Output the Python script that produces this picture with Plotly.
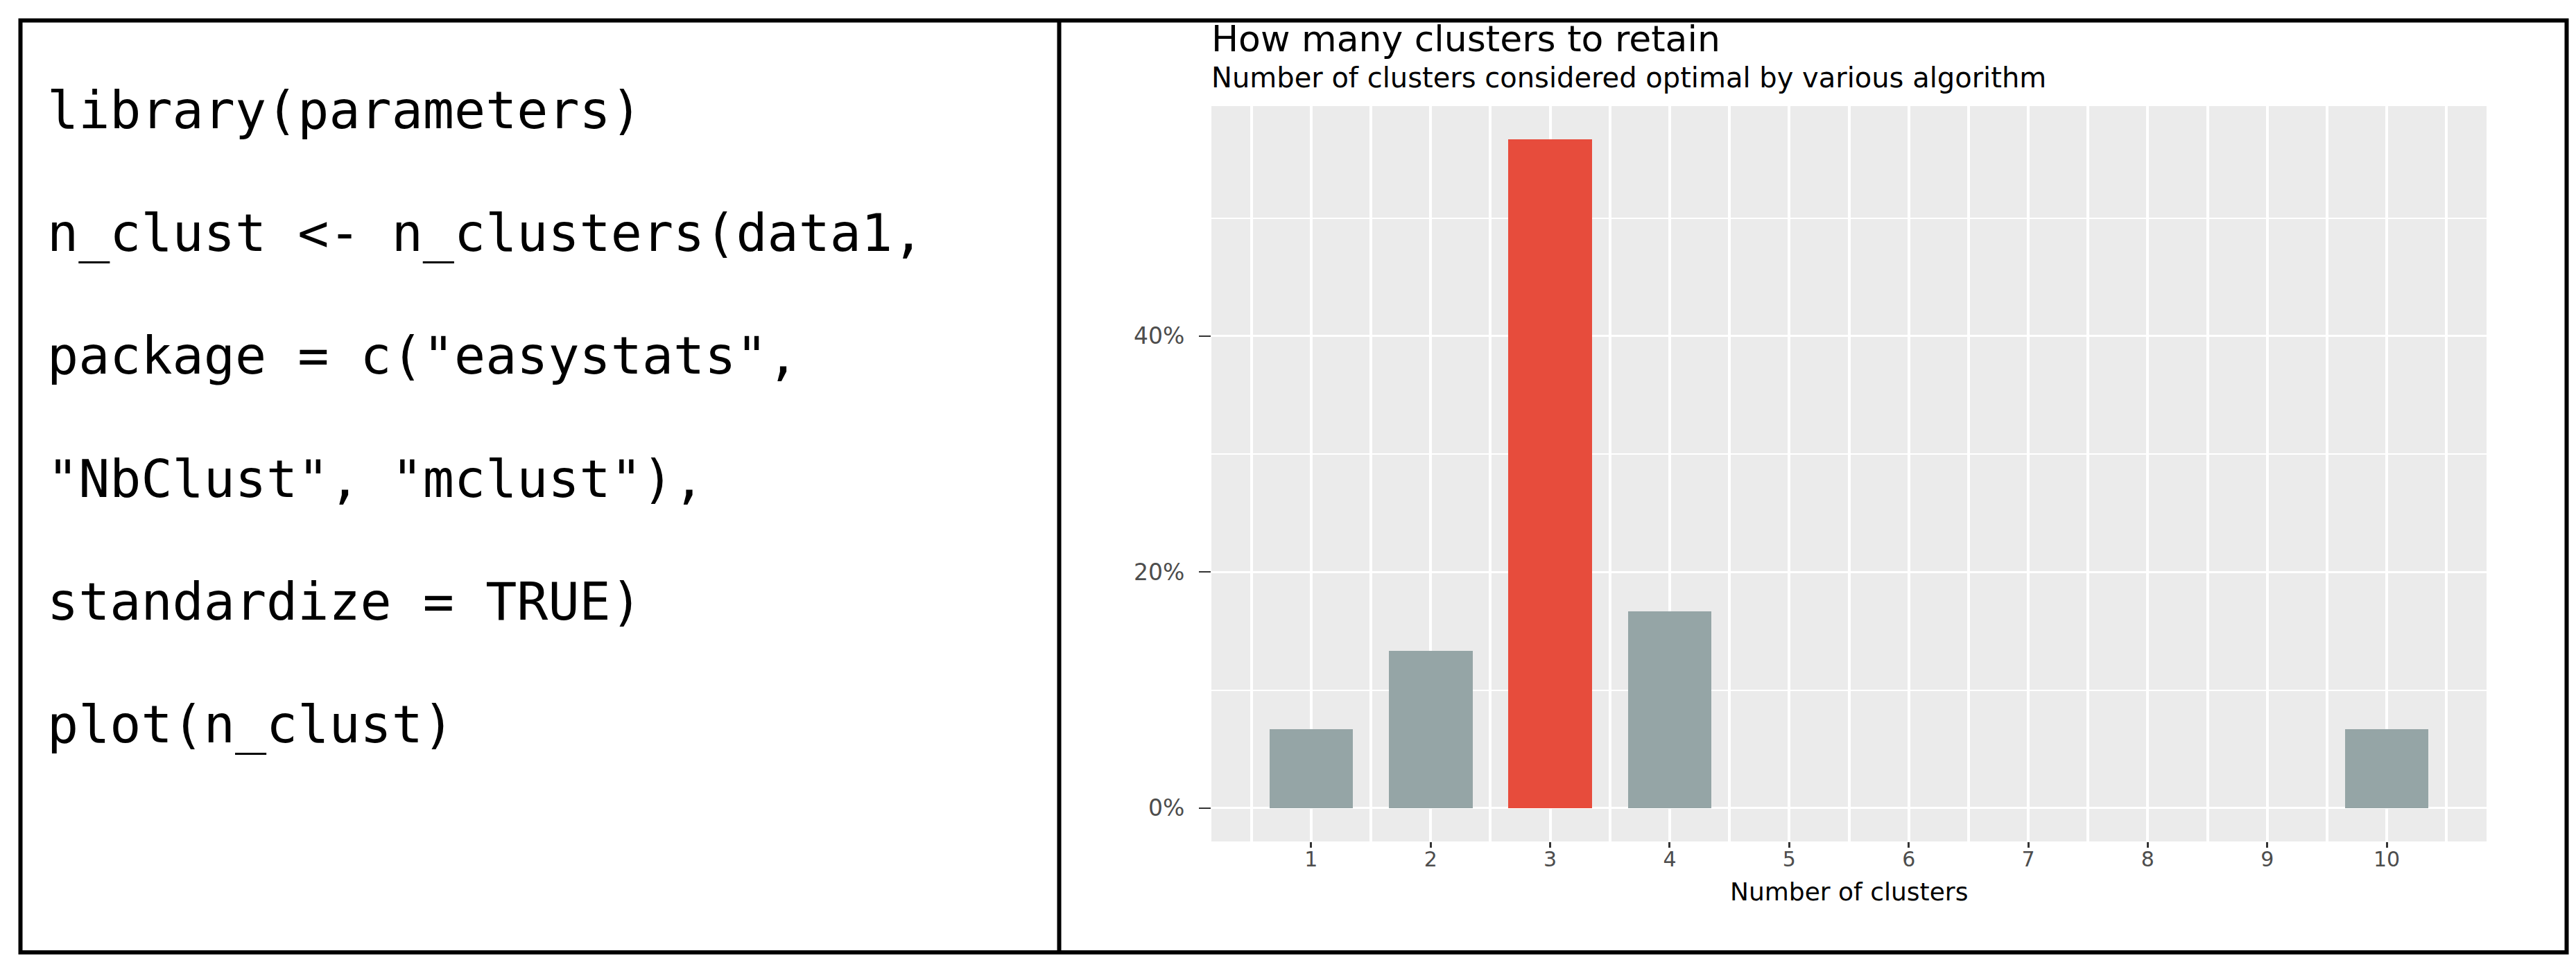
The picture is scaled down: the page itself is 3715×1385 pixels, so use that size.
import plotly.graph_objects as go

W, H = 3715, 1385

# ---- data ----
clusters = [1, 2, 3, 4, 5, 6, 7, 8, 9, 10]
share_pct = [6.67, 13.33, 56.67, 16.67, 0, 0, 0, 0, 0, 6.67]
x_ticks = [1, 2, 3, 4, 5, 6, 7, 8, 9, 10]
y_ticks = [0, 20, 40]
y_tick_labels = ["0%", "20%", "40%"]

code_lines = [
    "library(parameters)",
    "n_clust <- n_clusters(data1,",
    'package = c("easystats",',
    '"NbClust", "mclust"),',
    "standardize = TRUE)",
    "plot(n_clust)",
]

title_text = "How many clusters to retain"
subtitle_text = "Number of clusters considered optimal by various algorithm"
x_title = "Number of clusters"

# ---- styling ----
RED = "#E74C3C"
GREY = "#95A5A6"
best = max(share_pct)
bar_colors = [RED if v == best else GREY for v in share_pct]

def fx(px):
    return px / W

def fy(py):
    return 1 - py / H

panel_l, panel_r, panel_t, panel_b = 1739, 3578, 145, 1206

fig = go.Figure()
fig.add_trace(go.Bar(
    x=clusters, y=share_pct, width=0.7,
    marker=dict(color=bar_colors, line=dict(width=0)),
    hoverinfo="x+y", showlegend=False,
))

FONT = "DejaVu Sans"
fig.update_layout(
    width=W, height=H,
    margin=dict(l=0, r=0, t=0, b=0),
    paper_bgcolor="white",
    plot_bgcolor="#EBEBEB",
    bargap=0,
    xaxis=dict(
        domain=[fx(panel_l), fx(panel_r)],
        range=[0.165, 10.835],
        tickmode="array", tickvals=x_ticks, ticktext=[str(t) for t in x_ticks],
        ticks="outside", ticklen=8, tickwidth=3, tickcolor="#333333",
        ticklabelstandoff=-9,
        tickfont=dict(family=FONT, size=30, color="#4D4D4D"),
        showgrid=True, gridcolor="white", gridwidth=4,
        minor=dict(tickmode="linear", tick0=0.5, dtick=0.5, showgrid=True,
                   gridcolor="white", gridwidth=4, ticks=""),
        zeroline=False, showline=False,
        fixedrange=True,
    ),
    yaxis=dict(
        domain=[fy(panel_b), fy(panel_t)],
        range=[-2.83, 59.5],
        tickmode="array", tickvals=y_ticks, ticktext=y_tick_labels,
        ticks="outside", ticklen=17, tickwidth=2, tickcolor="#333333",
        ticklabelstandoff=14,
        tickfont=dict(family=FONT, size=33, color="#4D4D4D"),
        showgrid=True, gridcolor="white", gridwidth=2.5,
        minor=dict(tickmode="linear", tick0=0, dtick=10, showgrid=True,
                   gridcolor="white", gridwidth=2, ticks=""),
        zeroline=False, showline=False,
        fixedrange=True,
    ),
)

annotations = []
# title and subtitle
annotations.append(dict(
    text=title_text, xref="paper", yref="paper",
    x=fx(1737), y=fy(66 - 0.346 * 52), xanchor="left", yanchor="middle",
    showarrow=False, font=dict(family=FONT, size=52, color="black"),
))
annotations.append(dict(
    text=subtitle_text, xref="paper", yref="paper",
    x=fx(1737), y=fy(118 - 0.346 * 40), xanchor="left", yanchor="middle",
    showarrow=False, font=dict(family=FONT, size=40, color="black"),
))
# x-axis title
annotations.append(dict(
    text=x_title, xref="paper", yref="paper",
    x=fx((panel_l + panel_r) / 2), y=fy(1291 - 0.346 * 36),
    xanchor="center", yanchor="middle",
    showarrow=False, font=dict(family=FONT, size=36, color="black"),
))
# code lines
for i, line in enumerate(code_lines):
    baseline = 177 + 177.2 * i
    annotations.append(dict(
        text=line, xref="paper", yref="paper",
        x=fx(58), y=fy(baseline - 0.346 * 75), xanchor="left", yanchor="middle",
        showarrow=False, font=dict(family="DejaVu Sans Mono", size=75, color="black"),
    ))
fig.update_layout(annotations=annotations)

# outer frame and divider
fig.add_shape(type="rect", xref="paper", yref="paper",
              x0=fx(21.5), x1=fx(3693.5), y0=fy(1366), y1=fy(21.5),
              line=dict(color="black", width=6), fillcolor="rgba(0,0,0,0)", layer="above")
fig.add_shape(type="line", xref="paper", yref="paper",
              x0=fx(1519.5), x1=fx(1519.5), y0=fy(1366), y1=fy(21.5),
              line=dict(color="black", width=6), layer="above")

fig.write_html("out.html", config={"displayModeBar": False})
